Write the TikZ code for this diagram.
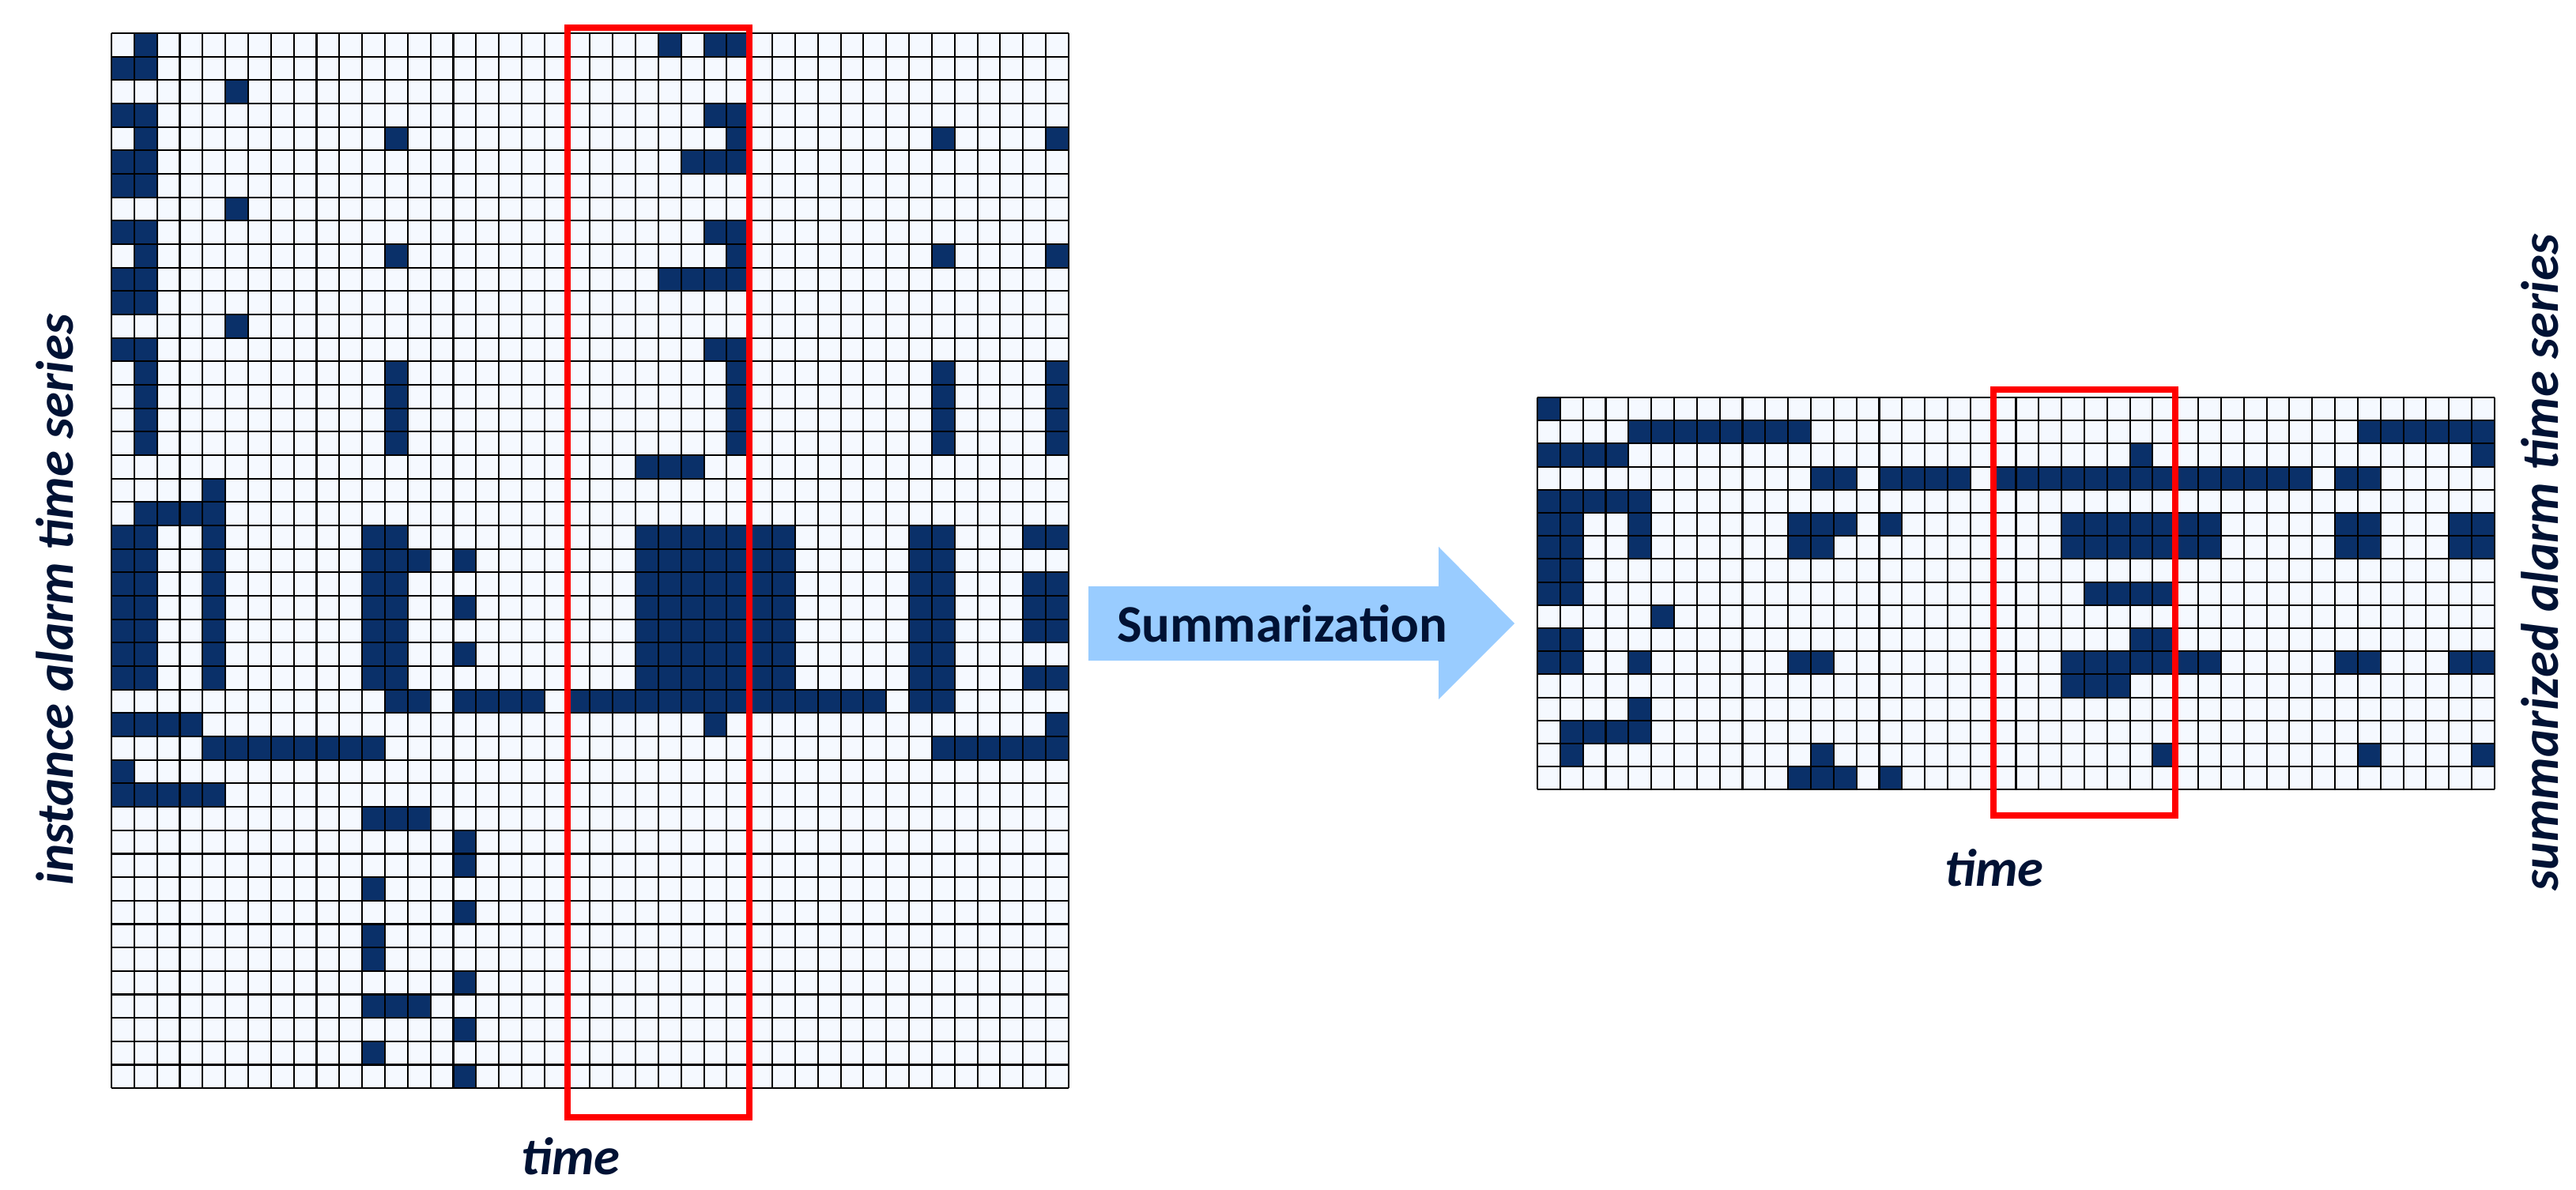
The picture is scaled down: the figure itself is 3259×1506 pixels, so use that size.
\documentclass[tikz,border=0pt]{standalone}
\usepackage{fontspec}
\setmainfont{Carlito}
\definecolor{cellon}{RGB}{10,48,105}
\definecolor{celloff}{RGB}{245,249,255}
\definecolor{txt}{RGB}{0,18,52}
\definecolor{arrowblue}{RGB}{153,204,255}
\begin{document}
\begin{tikzpicture}[x=0.02cm,y=-0.02cm,
  lbl/.style={text=txt,font=\fontsize{38}{44}\selectfont\bfseries\itshape,inner sep=0pt},
  gridline/.style={black,line width=1.2pt},
  redbox/.style={draw=red,line width=4.5pt},
  darkcell/.style={fill=cellon}]
\useasboundingbox (0,0) rectangle (3259,1506);
% ---------- left grid ----------
\def\LX{141}\def\LY{42}\def\CW{28.83}\def\LH{29.67}
\fill[celloff] (\LX,\LY) rectangle ({\LX+42*\CW},{\LY+45*\LH});
\foreach \r/\cs in {0/{1,24,26,27},1/{0,1},2/{5},3/{0,1,26,27},4/{1,12,27,36,41},
 5/{0,1,25,26,27},6/{0,1},7/{5},8/{0,1,26,27},9/{1,12,27,36,41},10/{0,1,24,25,26,27},
 11/{0,1},12/{5},13/{0,1,26,27},14/{1,12,27,36,41},15/{1,12,27,36,41},16/{1,12,27,36,41},
 17/{1,12,27,36,41},18/{23,24,25},19/{4},20/{1,2,3,4},
 21/{0,1,4,11,12,23,24,25,26,27,28,29,35,36,40,41},
 22/{0,1,4,11,12,13,15,23,24,25,26,27,28,29,35,36},
 23/{0,1,4,11,12,23,24,25,26,27,28,29,35,36,40,41},
 24/{0,1,4,11,12,15,23,24,25,26,27,28,29,35,36,40,41},
 25/{0,1,4,11,12,23,24,25,26,27,28,29,35,36,40,41},
 26/{0,1,4,11,12,15,23,24,25,26,27,28,29,35,36},
 27/{0,1,4,11,12,23,24,25,26,27,28,29,35,36,40,41},
 28/{12,13,15,16,17,18,20,21,22,23,24,25,26,27,28,29,30,31,32,33,35,36},
 29/{0,1,2,3,26,41},30/{4,5,6,7,8,9,10,11,36,37,38,39,40,41},31/{0},32/{0,1,2,3,4},
 33/{11,12,13},34/{15},35/{15},36/{11},37/{15},38/{11},39/{11},40/{15},41/{11,12,13},
 42/{15},43/{11},44/{15}}{
  \foreach \c in \cs {\fill[darkcell] ({\LX+\c*\CW},{\LY+\r*\LH}) rectangle +(\CW,\LH);}
}
\foreach \i in {0,...,42} \draw[gridline] ({\LX+\i*\CW},\LY) -- ({\LX+\i*\CW},{\LY+45*\LH});
\foreach \j in {0,...,45} \draw[gridline] (\LX,{\LY+\j*\LH}) -- ({\LX+42*\CW},{\LY+\j*\LH});
\draw[redbox] ({\LX+20*\CW},35) rectangle ({\LX+28*\CW},1414);
% ---------- right grid ----------
\def\RX{1945}\def\RY{503}\def\RH{29.2}
\fill[celloff] (\RX,\RY) rectangle ({\RX+42*\CW},{\RY+17*\RH});
\foreach \r/\cs in {0/{0},1/{4,5,6,7,8,9,10,11,36,37,38,39,40,41},2/{0,1,2,3,26,41},
 3/{12,13,15,16,17,18,20,21,22,23,24,25,26,27,28,29,30,31,32,33,35,36},4/{0,1,2,3,4},
 5/{0,1,4,11,12,13,15,23,24,25,26,27,28,29,35,36,40,41},
 6/{0,1,4,11,12,23,24,25,26,27,28,29,35,36,40,41},7/{0,1},8/{0,1,24,25,26,27},9/{5},
 10/{0,1,26,27},11/{0,1,4,11,12,23,24,25,26,27,28,29,35,36,40,41},12/{23,24,25},
 13/{4},14/{1,2,3,4},15/{1,12,27,36,41},16/{11,12,13,15}}{
  \foreach \c in \cs {\fill[darkcell] ({\RX+\c*\CW},{\RY+\r*\RH}) rectangle +(\CW,\RH);}
}
\foreach \i in {0,...,42} \draw[gridline] ({\RX+\i*\CW},\RY) -- ({\RX+\i*\CW},{\RY+17*\RH});
\foreach \j in {0,...,17} \draw[gridline] (\RX,{\RY+\j*\RH}) -- ({\RX+42*\CW},{\RY+\j*\RH});
\draw[redbox] ({\RX+20*\CW},493) rectangle ({\RX+28*\CW},1032);
% ---------- arrow ----------
\fill[arrowblue] (1377,742) -- (1820,742) -- (1820,692) -- (1916,789) -- (1820,885) -- (1820,836) -- (1377,836) -- cycle;
\node[text=txt,font=\fontsize{38}{44}\selectfont\bfseries,inner sep=0pt] (summ) at (1622,789) {Summarization};
% ---------- labels ----------
\node[lbl,rotate=90] (ylabL) at (69,759) {instance alarm time series};
\node[lbl,rotate=90] (ylabR) at (3213,712) {summarized alarm time series};
\node[lbl] (timeL) at (722,1463) {time};
\node[lbl] (timeR) at (2523,1098) {time};
\end{tikzpicture}
\end{document}
